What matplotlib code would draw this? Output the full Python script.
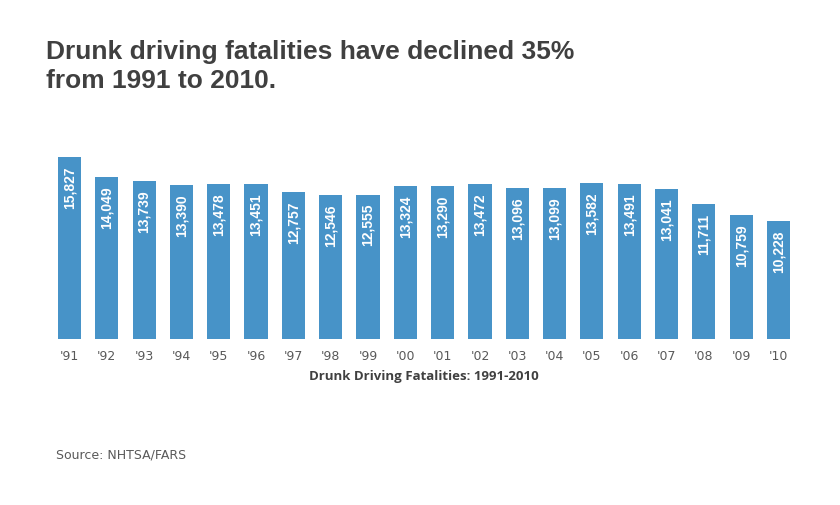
import matplotlib
matplotlib.use("Agg")
import matplotlib.pyplot as plt

years = ["'91", "'92", "'93", "'94", "'95", "'96", "'97", "'98", "'99", "'00",
         "'01", "'02", "'03", "'04", "'05", "'06", "'07", "'08", "'09", "'10"]
fatalities = [15827, 14049, 13739, 13390, 13478, 13451, 12757, 12546, 12555, 13324,
              13290, 13472, 13096, 13099, 13582, 13491, 13041, 11711, 10759, 10228]

bar_color = '#4793C8'

fig = plt.figure(figsize=(8.4, 5.06), dpi=100)
ax = fig.add_axes([0.0605, 0.328, 0.8885, 0.3636])

x = range(len(years))
ax.bar(x, fatalities, width=0.62, color=bar_color)

for i, v in enumerate(fatalities):
    ax.annotate(f"{v:,}", (i, v), xytext=(0, -6), textcoords='offset points',
                rotation=90, ha='center', va='top', color='white',
                fontsize=10, fontweight='bold', family='Liberation Sans')

ax.set_xlim(-0.5, len(years) - 0.5)
ax.set_ylim(0, 16000)
ax.set_xticks(list(x))
ax.set_xticklabels(years, fontsize=9, color='#595959', family='DejaVu Sans')
ax.tick_params(axis='x', length=0, pad=7)
ax.set_yticks([])
for s in ax.spines.values():
    s.set_visible(False)

ax.set_xlabel('Drunk Driving Fatalities: 1991-2010', fontsize=9.5, fontweight='bold',
              color='#404040', family='Open Sans', labelpad=5)

fig.text(0.055, 0.92, 'Drunk driving fatalities have declined 35%\nfrom 1991 to 2010.',
         fontsize=19, fontweight='bold', color='#404040', family='Liberation Sans',
         va='top', ha='left', linespacing=1.22)

fig.text(0.067, 0.1, 'Source: NHTSA/FARS', fontsize=9, color='#595959',
         family='DejaVu Sans', va='center', ha='left')

fig.savefig('out.png', dpi=100)
